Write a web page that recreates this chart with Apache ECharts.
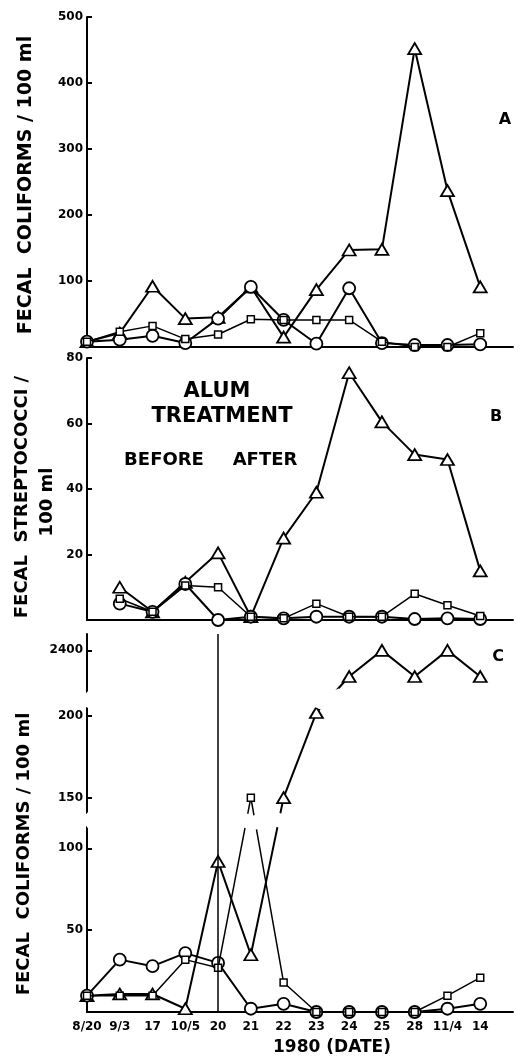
<!DOCTYPE html>
<html>
<head>
<meta charset="utf-8">
<script src="https://cdn.jsdelivr.net/npm/echarts@6/dist/echarts.min.js"></script>
<style>
html,body{margin:0;padding:0;background:#fff;}
#c{width:523px;height:1057px;}
</style>
</head>
<body>
<div id="c"></div>
<script>
// ---- data ----
const categories = ['8/20','9/3','17','10/5','20','21','22','23','24','25','28','11/4','14'];

// Panel A: fecal coliforms / 100 ml
const triA  = [8, 21, 92, 43, 45, 91, 15, 87, 147, 148, 452, 237, 91];
const sqA   = [8, 23, 32, 12, 19, 42, 41, 41, 41, 8, 0, 0, 21];
const circA = [8, 11, 17, 6, 43, 91, 41, 5, 89, 6, 3, 3, 4];

// Panel B: fecal streptococci / 100 ml
const triB  = [null, 10, 2.5, 11.5, 20.5, 1, 25, 39, 75.5, 60.5, 50.5, 49, 15];
const sqB   = [null, 6.5, 2.5, 10.5, 10, 1, 0.5, 5, 1, 1, 8, 4.5, 1.2];
const circB = [null, 5, 2.5, 11, 0, 1, 0.5, 1, 1, 1, 0.3, 0.5, 0.3];

// Panel C: fecal coliforms / 100 ml (broken axis)
const triC  = [10, 11, 11, 2, 92, 35, 150, 202, 2384, 2400, 2384, 2400, 2384];
const sqC   = [10, 10, 10, 32, 27, 150, 18, 0, 0, 0, 0, 10, 21];
const circC = [10, 32, 28, 36, 30, 2, 5, 0, 0, 0, 0, 2, 5];

const ticksA = [100, 200, 300, 400, 500];
const ticksB = [20, 40, 60, 80];
const ticksC = [50, 100, 150, 200, 2400];

// ---- chart ----
const FONT = 'DejaVu Sans';
const xCats = categories.concat(['']);
const chart = echarts.init(document.getElementById('c'), null, {renderer: 'canvas'});

function xAxis(gi, showLabels) {
  return {
    gridIndex: gi, type: 'category', data: xCats, boundaryGap: false,
    axisLine: {show: true, lineStyle: {color: '#000', width: 2}},
    axisTick: {show: false},
    axisLabel: {show: showLabels, interval: 0, color: '#000', fontFamily: FONT, fontWeight: 'bold', fontSize: 12, margin: 9},
    splitLine: {show: false}
  };
}
function yAxis(gi, min, max, interval, ticks, extra) {
  return Object.assign({
    gridIndex: gi, type: 'value', min: min, max: max, interval: interval,
    axisLine: {show: true, onZero: false, lineStyle: {color: '#000', width: 2}},
    axisTick: {show: true, inside: true, length: 5, lineStyle: {color: '#000', width: 2},
      customValues: ticks},
    axisLabel: {color: '#000', fontFamily: FONT, fontWeight: 'bold', fontSize: 12, margin: 4,
      customValues: ticks, formatter: v => String(v)},
    splitLine: {show: false}
  }, extra || {});
}
const sym = {tri: 'triangle', sq: 'rect', circ: 'circle'};
function ser(gi, kind, data, extra) {
  const size = kind === 'tri' ? [13, 11] : (kind === 'sq' ? 7 : 12);
  return Object.assign({
    type: 'line', xAxisIndex: gi, yAxisIndex: gi, data: data,
    symbol: sym[kind], symbolSize: size, showAllSymbol: true,
    lineStyle: {color: '#000', width: kind === 'sq' ? 1.5 : 2},
    itemStyle: {color: '#fff', borderColor: '#000', borderWidth: kind === 'sq' ? 1.5 : 1.8},
    emphasis: {disabled: true},
    connectNulls: false, silent: true, z: kind === 'sq' ? 4 : (kind === 'circ' ? 3 : 2)
  }, extra || {});
}
const vline = (from, to) => ({
  silent: true, symbol: ['none', 'none'], label: {show: false}, z: 60,
  lineStyle: {color: '#000', width: 1.5, type: 'solid'},
  emphasis: {disabled: true},
  data: [[{coord: [4, from]}, {coord: [4, to]}]]
});

function txt(text, x, y, size, rot, extra) {
  return Object.assign({
    type: 'text', x: x, y: y, rotation: rot || 0, silent: true,
    style: {text: text, fill: '#000', font: 'bold ' + size + 'px "' + FONT + '"',
      textAlign: 'center', textVerticalAlign: 'middle'}
  }, extra || {});
}

const option = {
  animation: false,
  backgroundColor: '#fff',
  grid: [
    {left: 87, top: 17, width: 426, height: 330},
    {left: 87, top: 358, width: 426, height: 262},
    {left: 87, top: 634, width: 426, height: 378}
  ],
  xAxis: [xAxis(0, false), xAxis(1, false), xAxis(2, true)],
  yAxis: [
    yAxis(0, 0, 500, 100, ticksA),
    yAxis(1, 0, 80, 20, ticksB),
    yAxis(2, 0, 2410, 50, ticksC, {
      breaks: [
        {start: 113, end: 141, gap: 9},
        {start: 205, end: 2375, gap: 10}
      ],
      breakArea: {show: true, expandOnClick: false, zigzagAmplitude: 3, zigzagZ: 10,
        itemStyle: {color: '#fff', borderColor: '#fff', borderWidth: 0, opacity: 1}}
    })
  ],
  series: [
    ser(0, 'tri', triA), ser(0, 'sq', sqA), ser(0, 'circ', circA),
    ser(1, 'tri', triB, {clip: false, markLine: vline(53, -5)}), ser(1, 'sq', sqB), ser(1, 'circ', circB),
    ser(2, 'tri', triC, {markLine: vline(0, 2410)}), ser(2, 'sq', sqC), ser(2, 'circ', circC)
  ],
  graphic: [
    txt('FECAL  COLIFORMS / 100 ml', 26, 185, 19, Math.PI / 2),
    txt('FECAL  STREPTOCOCCI /', 22, 497, 18, Math.PI / 2),
    txt('100 ml', 47, 502, 18, Math.PI / 2),
    txt('FECAL  COLIFORMS / 100 ml', 24, 854, 18, Math.PI / 2),
    txt('A', 505, 120, 16),
    txt('B', 496, 417, 16),
    txt('C', 498, 657, 16),
    txt('ALUM', 217, 392, 21),
    txt('TREATMENT', 222, 417, 21),
    txt('BEFORE', 164, 460, 18),
    txt('AFTER', 265, 460, 18),
    txt('1980 (DATE)', 332, 1048, 17)
  ]
};
chart.setOption(option);
</script>
</body>
</html>
